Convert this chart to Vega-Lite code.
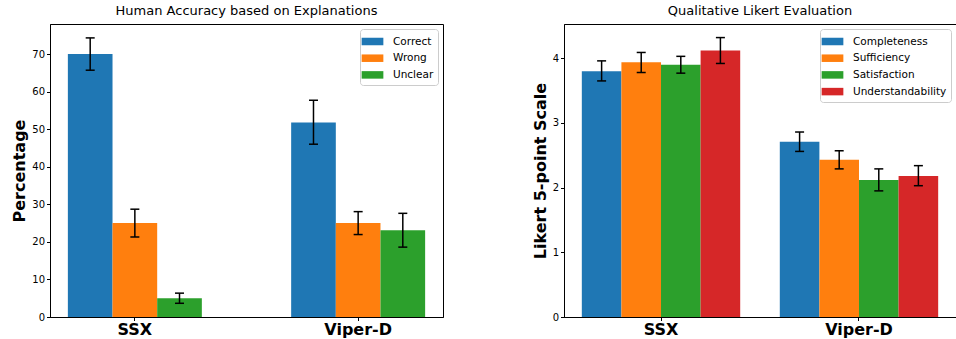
{
  "$schema": "https://vega.github.io/schema/vega-lite/v6.json",
  "padding": {"left": 11, "top": 4, "right": 0, "bottom": 0},
  "spacing": 87,
  "config": {
    "font": "DejaVu Sans",
    "view": {"stroke": "black", "strokeWidth": 1},
    "title": {"fontSize": 13, "fontWeight": "normal", "color": "black", "offset": 6, "frame": "group", "anchor": "middle"},
    "axis": {"domainColor": "black", "tickColor": "black", "tickSize": 3.5, "labelColor": "black", "titleColor": "black", "grid": false},
    "legend": {"fillColor": "white", "strokeColor": "#cccccc", "cornerRadius": 3, "padding": 4, "labelFontSize": 10.5, "labelColor": "black", "labelOffset": 12, "rowPadding": 2.7, "symbolStrokeWidth": 0, "symbolOpacity": 1, "symbolSize": 279, "symbolType": "M-1.3,-0.45L1.3,-0.45L1.3,0.45L-1.3,0.45Z"}
  },
  "hconcat": [
    {
      "width": 393,
      "height": 293,
      "title": "Human Accuracy based on Explanations",
      "data": {"values": [
        {"group": "SSX", "series": "Correct", "value": 70, "lo": 65.7, "hi": 74.3},
        {"group": "SSX", "series": "Wrong", "value": 25, "lo": 21.3, "hi": 28.7},
        {"group": "SSX", "series": "Unclear", "value": 5, "lo": 3.65, "hi": 6.35},
        {"group": "Viper-D", "series": "Correct", "value": 51.8, "lo": 46.0, "hi": 57.7},
        {"group": "Viper-D", "series": "Wrong", "value": 25, "lo": 21.95, "hi": 28.05},
        {"group": "Viper-D", "series": "Unclear", "value": 23.1, "lo": 18.6, "hi": 27.6}
      ]},
      "encoding": {
        "x": {"field": "group", "type": "nominal", "title": null, "scale": {"type": "band", "paddingInner": 0.4, "paddingOuter": 0.08},
              "axis": {"labelAngle": 0, "labelFontSize": 16, "labelFontWeight": "bold", "labelPadding": 1}},
        "xOffset": {"field": "series", "type": "nominal", "sort": ["Correct", "Wrong", "Unclear"], "scale": {"type": "band", "paddingInner": 0, "paddingOuter": 0}}
      },
      "layer": [
        {
          "mark": {"type": "bar"},
          "encoding": {
            "y": {"field": "value", "type": "quantitative", "title": "Percentage", "scale": {"domain": [0, 78], "nice": false},
                  "axis": {"values": [0, 10, 20, 30, 40, 50, 60, 70], "labelFontSize": 10, "titleFontSize": 16, "titleFontWeight": "bold", "titlePadding": 4, "labelPadding": 2}},
            "color": {"field": "series", "type": "nominal", "sort": ["Correct", "Wrong", "Unclear"],
                      "scale": {"domain": ["Correct", "Wrong", "Unclear"], "range": ["#1f77b4", "#ff7f0e", "#2ca02c"]},
                      "legend": {"title": null, "orient": "top-right", "offset": 5}}
          }
        },
        {"mark": {"type": "rule", "color": "black", "strokeWidth": 1.5}, "encoding": {"y": {"field": "lo", "type": "quantitative"}, "y2": {"field": "hi"}}},
        {"mark": {"type": "tick", "color": "black", "thickness": 1.5, "size": 9, "orient": "horizontal", "opacity": 1}, "encoding": {"y": {"field": "lo", "type": "quantitative"}}},
        {"mark": {"type": "tick", "color": "black", "thickness": 1.5, "size": 9, "orient": "horizontal", "opacity": 1}, "encoding": {"y": {"field": "hi", "type": "quantitative"}}}
      ]
    },
    {
      "width": 392,
      "height": 293,
      "title": "Qualitative Likert Evaluation",
      "data": {"values": [
        {"group": "SSX", "series": "Completeness", "value": 3.8, "lo": 3.65, "hi": 3.96},
        {"group": "SSX", "series": "Sufficiency", "value": 3.94, "lo": 3.78, "hi": 4.09},
        {"group": "SSX", "series": "Satisfaction", "value": 3.9, "lo": 3.77, "hi": 4.03},
        {"group": "SSX", "series": "Understandability", "value": 4.12, "lo": 3.92, "hi": 4.32},
        {"group": "Viper-D", "series": "Completeness", "value": 2.71, "lo": 2.56, "hi": 2.86},
        {"group": "Viper-D", "series": "Sufficiency", "value": 2.43, "lo": 2.29, "hi": 2.57},
        {"group": "Viper-D", "series": "Satisfaction", "value": 2.12, "lo": 1.95, "hi": 2.29},
        {"group": "Viper-D", "series": "Understandability", "value": 2.18, "lo": 2.03, "hi": 2.34}
      ]},
      "encoding": {
        "x": {"field": "group", "type": "nominal", "title": null, "scale": {"type": "band", "paddingInner": 0.2, "paddingOuter": 0.09},
              "axis": {"labelAngle": 0, "labelFontSize": 16, "labelFontWeight": "bold", "labelPadding": 1}},
        "xOffset": {"field": "series", "type": "nominal", "sort": ["Completeness", "Sufficiency", "Satisfaction", "Understandability"], "scale": {"type": "band", "paddingInner": 0, "paddingOuter": 0}}
      },
      "layer": [
        {
          "mark": {"type": "bar"},
          "encoding": {
            "y": {"field": "value", "type": "quantitative", "title": "Likert 5-point Scale", "scale": {"domain": [0, 4.53], "nice": false},
                  "axis": {"values": [0, 1, 2, 3, 4], "format": "d", "labelFontSize": 10, "titleFontSize": 16, "titleFontWeight": "bold", "titlePadding": 4, "labelPadding": 2}},
            "color": {"field": "series", "type": "nominal", "sort": ["Completeness", "Sufficiency", "Satisfaction", "Understandability"],
                      "scale": {"domain": ["Completeness", "Sufficiency", "Satisfaction", "Understandability"], "range": ["#1f77b4", "#ff7f0e", "#2ca02c", "#d62728"]},
                      "legend": {"title": null, "orient": "top-right", "offset": 5}}
          }
        },
        {"mark": {"type": "rule", "color": "black", "strokeWidth": 1.5}, "encoding": {"y": {"field": "lo", "type": "quantitative"}, "y2": {"field": "hi"}}},
        {"mark": {"type": "tick", "color": "black", "thickness": 1.5, "size": 9, "orient": "horizontal", "opacity": 1}, "encoding": {"y": {"field": "lo", "type": "quantitative"}}},
        {"mark": {"type": "tick", "color": "black", "thickness": 1.5, "size": 9, "orient": "horizontal", "opacity": 1}, "encoding": {"y": {"field": "hi", "type": "quantitative"}}}
      ]
    }
  ],
  "resolve": {"scale": {"color": "independent", "xOffset": "independent", "x": "independent", "y": "independent"}, "legend": {"color": "independent"}}
}
